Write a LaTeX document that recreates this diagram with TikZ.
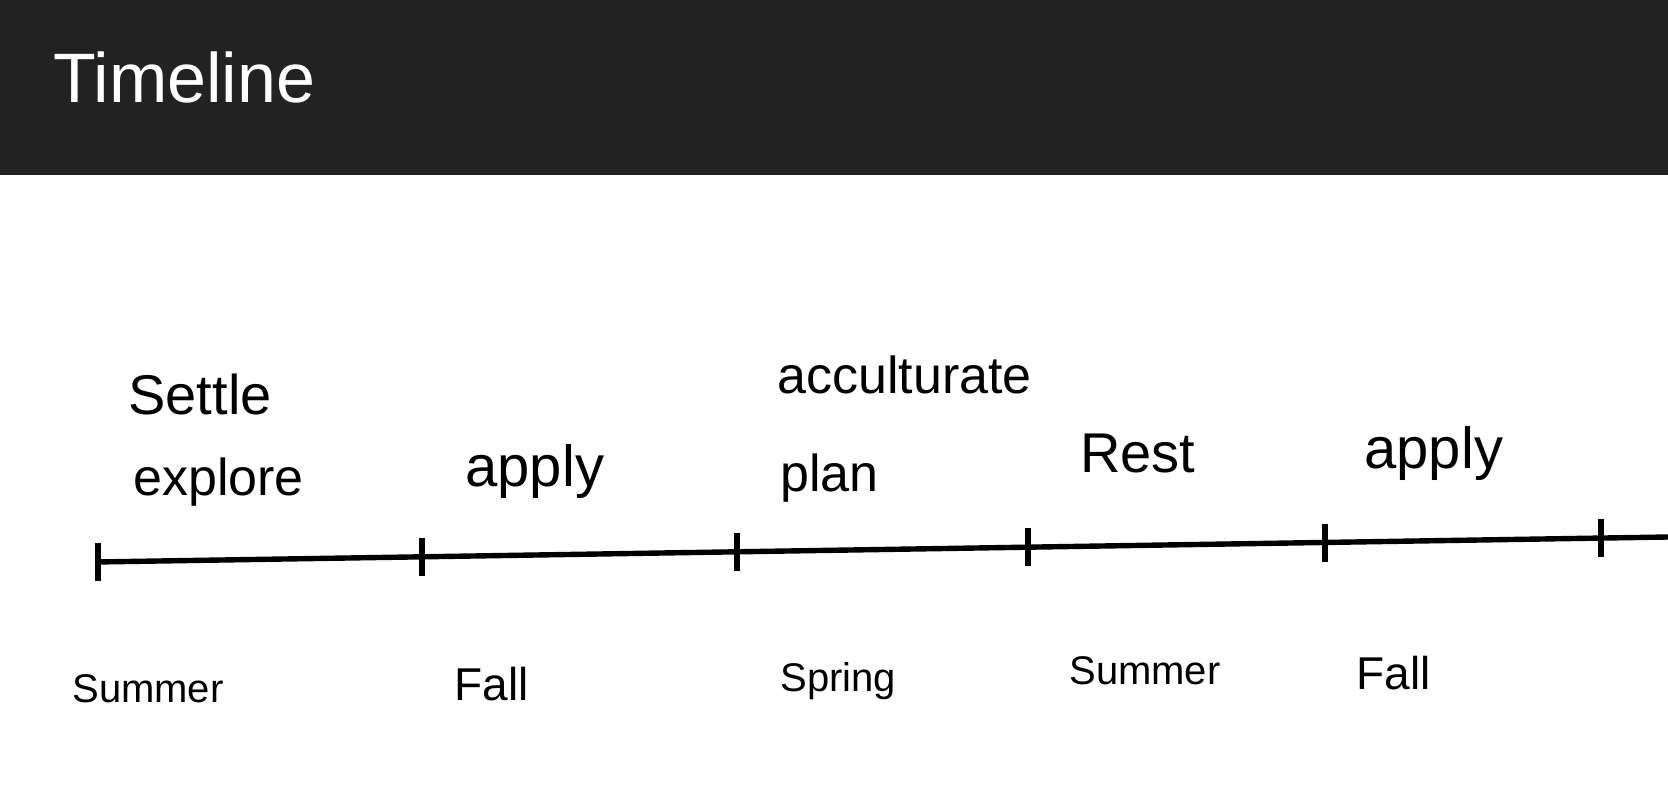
\documentclass[tikz,border=0pt]{standalone}
\usepackage{fontspec}
\setmainfont{Liberation Sans}
\definecolor{headerbg}{HTML}{222222}
\begin{document}
\begin{tikzpicture}[x=0.5pt,y=-0.5pt,
  top/.style={font=\fontsize{26}{30}\selectfont, anchor=base west, inner sep=0pt},
  bigtop/.style={top, font=\fontsize{29}{33}\selectfont},
  season/.style={font=\fontsize{20}{24}\selectfont, anchor=base west, inner sep=0pt},
  tick/.style={line width=2.7pt},
  axis/.style={line width=2.7pt}]
\useasboundingbox (0,0) rectangle (1668,806);
\fill[white] (0,0) rectangle (1668,806);
\fill[headerbg] (0,0) rectangle (1668,175);
\node[anchor=base west, inner sep=0pt, text=white, font=\fontsize{35}{40}\selectfont] (title) at (53,103) {Timeline};
% axis
\coordinate (s) at (96,562);
\coordinate (e) at (1668,537);
\draw[axis] (s) -- (e);
\foreach \n/\x/\y in {t1/98/562, t2/422/556.8, t3/737/551.8, t4/1028/547.2, t5/1325/542.5, t6/1601/538.1}{
  \coordinate (\n a) at (\x,\y-19);
  \coordinate (\n b) at (\x,\y+19);
  \draw[tick] (\n a) -- (\n b);
}
% labels above
\node[top, font=\fontsize{28}{32}\selectfont] (settle) at (128,415) {Settle};
\node[top] (explore) at (133,495) {explore};
\node[bigtop] (apply1) at (465,487) {apply};
\node[top] (accult) at (777,394) {acculturate};
\node[top] (plan) at (780,491) {plan};
\node[top, font=\fontsize{28}{32}\selectfont] (rest) at (1080,473) {Rest};
\node[bigtop] (apply2) at (1364,468) {apply};
% seasons
\node[season] (summer1) at (72,702) {Summer};
\node[season, font=\fontsize{23}{27}\selectfont] (fall1) at (454,700) {Fall};
\node[season] (spring) at (780,691) {Spring};
\node[season] (summer2) at (1069,684) {Summer};
\node[season, font=\fontsize{23}{27}\selectfont] (fall2) at (1356,689) {Fall};
\end{tikzpicture}
\end{document}
